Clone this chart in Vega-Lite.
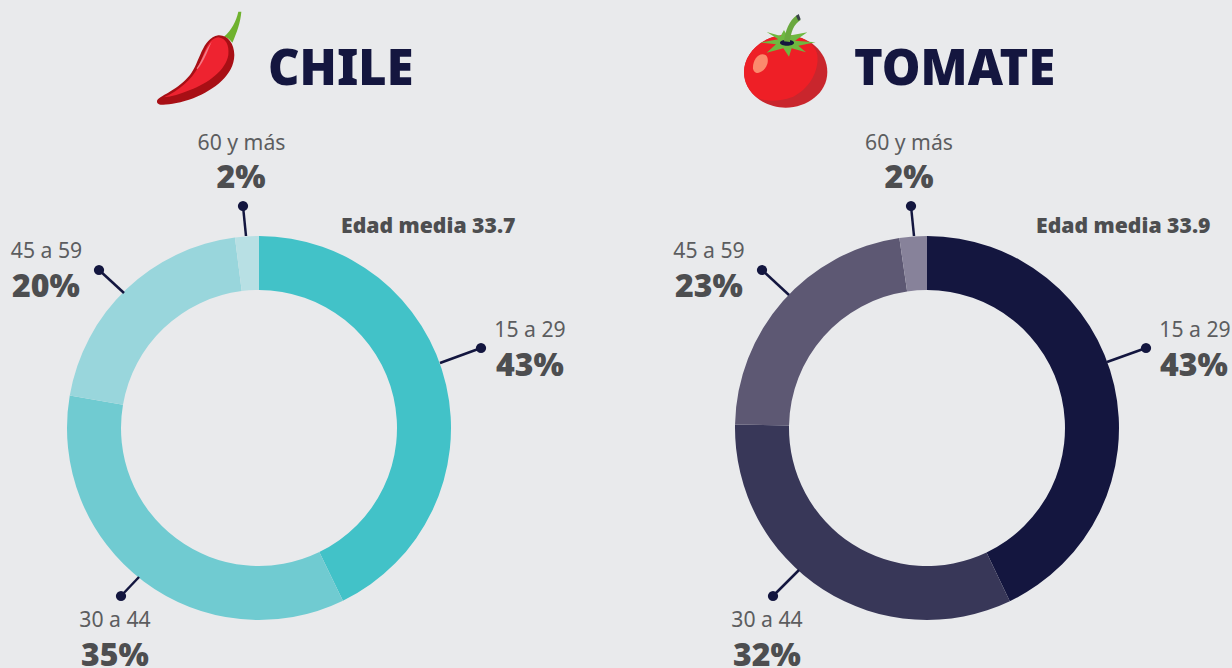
{"$schema":"https://vega.github.io/schema/vega-lite/v6.json","width":1232,"height":668,"padding":0,"autosize":{"type":"none"},"background":"#e9eaec","config":{"view":{"stroke":null},"text":{"font":"Noto Sans"}},
"datasets":{
"slices":[
{"producto":"Chile","edad":"15 a 29","pct":42.8,"idx":1,"cx":259,"cy":428,"seg":"c1"},
{"producto":"Chile","edad":"30 a 44","pct":34.9,"idx":2,"cx":259,"cy":428,"seg":"c2"},
{"producto":"Chile","edad":"45 a 59","pct":20.3,"idx":3,"cx":259,"cy":428,"seg":"c3"},
{"producto":"Chile","edad":"60 y más","pct":2,"idx":4,"cx":259,"cy":428,"seg":"c4"},
{"producto":"Tomate","edad":"15 a 29","pct":42.9,"idx":1,"cx":927,"cy":428,"seg":"t1"},
{"producto":"Tomate","edad":"30 a 44","pct":32.4,"idx":2,"cx":927,"cy":428,"seg":"t2"},
{"producto":"Tomate","edad":"45 a 59","pct":22.4,"idx":3,"cx":927,"cy":428,"seg":"t3"},
{"producto":"Tomate","edad":"60 y más","pct":2.3,"idx":4,"cx":927,"cy":428,"seg":"t4"}],
"leaders":[
{"x1":481,"y1":348,"x2":440,"y2":363},{"x1":121,"y1":596,"x2":139,"y2":577},{"x1":99,"y1":270,"x2":124,"y2":293},{"x1":243,"y1":206,"x2":246,"y2":236},
{"x1":1146,"y1":348,"x2":1107,"y2":362},{"x1":773,"y1":596,"x2":799,"y2":570},{"x1":762,"y1":270,"x2":789,"y2":295},{"x1":911,"y1":206,"x2":914,"y2":236}],
"ages":[
{"t":"15 a 29","x":530,"y":337},{"t":"30 a 44","x":115,"y":627},{"t":"45 a 59","x":46.5,"y":258},{"t":"60 y más","x":241.5,"y":149.5},
{"t":"15 a 29","x":1195,"y":337},{"t":"30 a 44","x":767,"y":627},{"t":"45 a 59","x":709,"y":258},{"t":"60 y más","x":909,"y":149.5}],
"values":[
{"t":"43%","x":530,"y":375.5},{"t":"35%","x":115,"y":665.5},{"t":"20%","x":46,"y":296.5},{"t":"2%","x":241,"y":187.5},
{"t":"43%","x":1194,"y":375.5},{"t":"32%","x":767,"y":665.5},{"t":"23%","x":709,"y":296.5},{"t":"2%","x":909,"y":187.5}],
"notes":[{"t":"Edad media 33.7","x":341,"y":233},{"t":"Edad media 33.9","x":1036,"y":233}],
"titles":[{"t":"CHILE","x":268,"y":84.5},{"t":"TOMATE","x":854,"y":84.5}],
"chileIcon":[{"x":140,"y":0}],
"tomatoIcon":[{"x":730,"y":0}]
},
"layer":[
{"data":{"name":"slices"},"transform":[{"filter":"datum.producto==='Chile'"}],"mark":{"type":"arc","outerRadius":192,"innerRadius":138},"encoding":{"theta":{"field":"pct","type":"quantitative","stack":true,"scale":{"domain":[0,100]}},"order":{"field":"idx"},"color":{"field":"seg","type":"nominal","legend":null,"scale":{"domain":["c1","c2","c3","c4","t1","t2","t3","t4"],"range":["#42c2c8","#70cbd1","#99d6dc","#b8e0e4","#14163f","#383758","#5d5873","#87829a"]}},"x":{"field":"cx","type":"quantitative","axis":null,"scale":{"domain":[0,1232],"nice":false,"zero":false}},"y":{"field":"cy","type":"quantitative","axis":null,"scale":{"domain":[0,668],"nice":false,"zero":false,"reverse":true}}}},
{"data":{"name":"slices"},"transform":[{"filter":"datum.producto==='Tomate'"}],"mark":{"type":"arc","outerRadius":192,"innerRadius":138},"encoding":{"theta":{"field":"pct","type":"quantitative","stack":true},"order":{"field":"idx"},"color":{"field":"seg","type":"nominal","legend":null},"x":{"field":"cx","type":"quantitative"},"y":{"field":"cy","type":"quantitative"}}},
{"data":{"name":"leaders"},"mark":{"type":"rule","color":"#13163f","strokeWidth":2.5},"encoding":{"x":{"field":"x1","type":"quantitative"},"y":{"field":"y1","type":"quantitative"},"x2":{"field":"x2"},"y2":{"field":"y2"}}},
{"data":{"name":"leaders"},"mark":{"type":"point","shape":"circle","filled":true,"opacity":1,"color":"#13163f","size":105},"encoding":{"x":{"field":"x1","type":"quantitative"},"y":{"field":"y1","type":"quantitative"}}},
{"data":{"name":"ages"},"mark":{"type":"text","font":"Noto Sans","fontSize":21.2,"color":"#5c5d5f","align":"center","baseline":"alphabetic"},"encoding":{"x":{"field":"x","type":"quantitative"},"y":{"field":"y","type":"quantitative"},"text":{"field":"t"}}},
{"data":{"name":"values"},"mark":{"type":"text","font":"Noto Sans","fontSize":32,"fontWeight":900,"color":"#4d4e50","align":"center","baseline":"alphabetic"},"encoding":{"x":{"field":"x","type":"quantitative"},"y":{"field":"y","type":"quantitative"},"text":{"field":"t"}}},
{"data":{"name":"notes"},"mark":{"type":"text","font":"Noto Sans","fontSize":21.2,"fontWeight":900,"color":"#4d4e50","align":"left","baseline":"alphabetic"},"encoding":{"x":{"field":"x","type":"quantitative"},"y":{"field":"y","type":"quantitative"},"text":{"field":"t"}}},
{"data":{"name":"titles"},"mark":{"type":"text","font":"Noto Sans","fontSize":48.7,"fontWeight":900,"color":"#14163f","align":"left","baseline":"alphabetic"},"encoding":{"x":{"field":"x","type":"quantitative"},"y":{"field":"y","type":"quantitative"},"text":{"field":"t"}}},
{"data":{"name":"chileIcon"},"mark":{"type":"point","filled":true,"opacity":1,"size":0.4444,"color":"#6fb22e","shape":"M252,110 C275,90 288,65 295,35 L304,35 C302,65 290,100 277,128 C270,118 262,112 252,110 Z"},"encoding":{"x":{"field":"x","type":"quantitative"},"y":{"field":"y","type":"quantitative"}}},
{"data":{"name":"chileIcon"},"mark":{"type":"point","filled":true,"opacity":1,"size":0.4444,"color":"#a80f15","shape":"M52,300 C65,285 115,268 150,225 C180,188 185,115 235,106 C262,104 283,130 283,165 C282,225 225,268 160,295 C120,310 80,316 62,314 C52,313 49,306 52,300 Z"},"encoding":{"x":{"field":"x","type":"quantitative"},"y":{"field":"y","type":"quantitative"}}},
{"data":{"name":"chileIcon"},"mark":{"type":"point","filled":true,"opacity":1,"size":0.4444,"color":"#ee2330","shape":"M72,292 C115,272 155,240 175,200 C195,160 200,118 235,112 C258,115 268,135 265,165 C258,210 205,250 150,270 C120,282 95,290 72,292 Z"},"encoding":{"x":{"field":"x","type":"quantitative"},"y":{"field":"y","type":"quantitative"}}},
{"data":{"name":"chileIcon"},"mark":{"type":"point","filled":true,"opacity":1,"size":0.4444,"color":"#f37a85","shape":"M170,205 C190,175 195,150 215,125 C203,150 195,180 172,208 Z"},"encoding":{"x":{"field":"x","type":"quantitative"},"y":{"field":"y","type":"quantitative"}}},
{"data":{"name":"tomatoIcon"},"mark":{"type":"point","filled":true,"opacity":1,"size":0.4444,"color":"#c9262d","shape":"M42,216 C42,160 98,106 167,106 C236,106 292,155 292,216 C292,280 230,323 167,323 C104,323 42,280 42,216 Z"},"encoding":{"x":{"field":"x","type":"quantitative"},"y":{"field":"y","type":"quantitative"}}},
{"data":{"name":"tomatoIcon"},"mark":{"type":"point","filled":true,"opacity":1,"size":0.4444,"color":"#ee1f26","shape":"M42,216 C42,160 98,106 167,106 C215,106 255,130 262,165 C268,210 240,265 190,290 C150,305 110,305 85,295 C55,275 42,245 42,216 Z"},"encoding":{"x":{"field":"x","type":"quantitative"},"y":{"field":"y","type":"quantitative"}}},
{"data":{"name":"tomatoIcon"},"mark":{"type":"point","filled":true,"opacity":1,"size":0.4444,"color":"#fb8a6d","shape":"M69,205 C68,185 80,163 98,163 C112,163 116,178 112,192 C106,210 90,220 80,219 C73,218 70,212 69,205 Z"},"encoding":{"x":{"field":"x","type":"quantitative"},"y":{"field":"y","type":"quantitative"}}},
{"data":{"name":"tomatoIcon"},"mark":{"type":"point","filled":true,"opacity":1,"size":0.4444,"color":"#6fb840","shape":"M110,96 L152,108 L162,90 L172,108 L232,97 L195,122 L257,127 L205,137 L228,157 L185,145 L177,170 L160,145 L110,158 L138,133 L90,128 L145,118 Z"},"encoding":{"x":{"field":"x","type":"quantitative"},"y":{"field":"y","type":"quantitative"}}},
{"data":{"name":"tomatoIcon"},"mark":{"type":"point","filled":true,"opacity":1,"size":0.4444,"color":"#15163f","shape":"M150,128 C150,122 160,119 171,119 C182,119 192,122 192,128 C192,134 182,137 171,137 C160,137 150,134 150,128 Z"},"encoding":{"x":{"field":"x","type":"quantitative"},"y":{"field":"y","type":"quantitative"}}},
{"data":{"name":"tomatoIcon"},"mark":{"type":"point","filled":true,"opacity":1,"size":0.4444,"color":"#6aa83e","shape":"M162,124 C166,92 178,62 200,46 L212,60 C192,72 182,96 180,126 Z"},"encoding":{"x":{"field":"x","type":"quantitative"},"y":{"field":"y","type":"quantitative"}}},
{"data":{"name":"tomatoIcon"},"mark":{"type":"point","filled":true,"opacity":1,"size":0.4444,"color":"#39404a","shape":"M198,48 L206,42 L212,58 L205,62 Z"},"encoding":{"x":{"field":"x","type":"quantitative"},"y":{"field":"y","type":"quantitative"}}}
]}
